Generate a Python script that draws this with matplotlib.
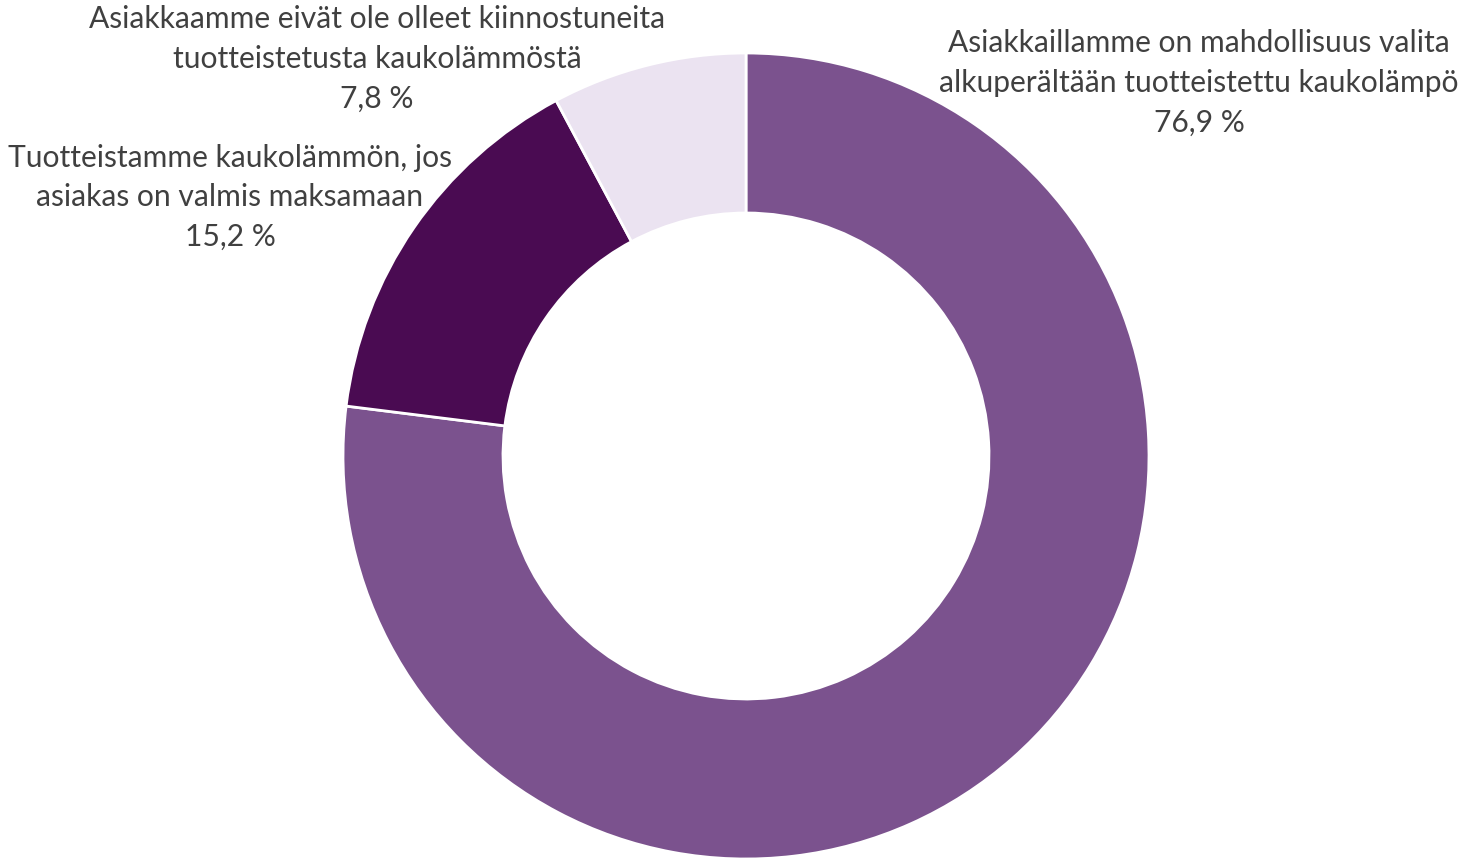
import matplotlib
matplotlib.use("Agg")
import matplotlib.pyplot as plt

categories = [
    "Asiakkaillamme on mahdollisuus valita\nalkuperältään tuotteistettu kaukolämpö",
    "Tuotteistamme kaukolämmön, jos\nasiakas on valmis maksamaan",
    "Asiakkaamme eivät ole olleet kiinnostuneita\ntuotteistetusta kaukolämmöstä",
]
values = [76.9, 15.2, 7.8]
colors = ["#7B528E", "#4A0B52", "#EBE3F1"]
label_pos = [(1199, 777), (230, 663), (377, 801)]

W, H = 1464, 860
fig = plt.figure(figsize=(W / 100, H / 100), dpi=100)
ax = fig.add_axes([0, 0, 1, 1])
ax.set_xlim(0, W)
ax.set_ylim(0, H)
ax.set_aspect("equal")
ax.axis("off")

R = 403
ax.pie(values, colors=colors, startangle=90, counterclock=False,
       center=(746, H - 456), radius=R, normalize=True,
       wedgeprops=dict(width=160, edgecolor="white", linewidth=2))
ax.set_xlim(0, W)
ax.set_ylim(0, H)

for cat, v, (x, y) in zip(categories, values, label_pos):
    txt = f"{cat}\n{v:.1f} %".replace(".", ",")
    ax.text(x, y, txt, ha="center", va="center", fontsize=21.6,
            family="Lato", color="#404040", linespacing=1.5)

fig.savefig("out.png", dpi=100)
